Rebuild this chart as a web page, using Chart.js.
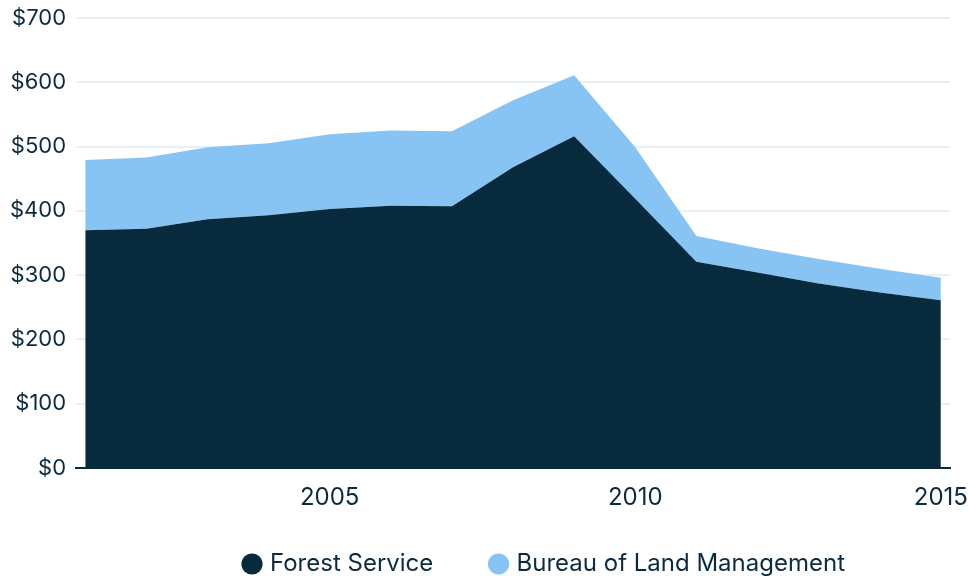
<!DOCTYPE html>
<html>
<head>
<meta charset="utf-8">
<script src="https://cdn.jsdelivr.net/npm/chart.js@4/dist/chart.umd.min.js"></script>
<style>
  html, body { margin: 0; padding: 0; background: #fff; }
  #wrap { width: 969px; height: 576px; position: relative; }
</style>
</head>
<body>
<div id="wrap"><canvas id="budgetChart"></canvas></div>
<script>
// Years on the x axis
const years = [2001, 2002, 2003, 2004, 2005, 2006, 2007, 2008, 2009, 2010, 2011, 2012, 2013, 2014, 2015];
// Spending in millions of dollars (stacked)
const forestService = [370, 372, 387, 393, 403, 408, 407, 468, 516, 419, 321, 304, 287, 273, 261];
const landManagement = [109, 111, 112, 112, 116, 117, 117, 104, 95, 80, 40, 38, 38, 37, 35];
const xTicks = [2005, 2010, 2015];

const navy = '#072a3d';
const sky = '#88c4f3';
const textColor = '#0b2b40';
const fontFamily = "Inter, 'Noto Sans', sans-serif";

// legend sits a bit right of center and lower in the original
const legendShift = {
    id: 'legendShift',
    afterLayout(chart) {
        const lg = chart.legend;
        lg.left = 234;
        lg.right = 969;
        lg.top += 10;
        lg.bottom += 10;
    }
};

document.addEventListener('DOMContentLoaded', function() {
    const ctx = document.getElementById('budgetChart').getContext('2d');

    const data = {
        datasets: [
            {
                label: 'Forest Service',
                data: years.map((y, i) => ({ x: y, y: forestService[i] })),
                backgroundColor: navy,
                borderColor: navy,
                borderWidth: 0,
                pointRadius: 0,
                fill: 'origin'
            },
            {
                label: 'Bureau of Land Management',
                data: years.map((y, i) => ({ x: y, y: landManagement[i] })),
                backgroundColor: sky,
                borderColor: sky,
                borderWidth: 0,
                pointRadius: 0,
                fill: '-1'
            }
        ]
    };

    const config = {
        type: 'line',
        data: data,
        plugins: [legendShift],
        options: {
            responsive: true,
            maintainAspectRatio: false,
            animation: false,
            layout: { padding: { left: 0, right: 19, top: 18, bottom: 0 } },
            plugins: {
                legend: {
                    display: true,
                    position: 'bottom',
                    align: 'start',
                    labels: {
                        usePointStyle: true,
                        pointStyle: 'circle',
                        boxWidth: 12,
                        boxHeight: 15,
                        padding: 12,
                        color: textColor,
                        font: { size: 24, family: fontFamily },
                        generateLabels: function(chart) {
                            const items = Chart.defaults.plugins.legend.labels.generateLabels(chart);
                            const c = chart.ctx;
                            c.save();
                            c.font = '24px ' + fontFamily;
                            const sp = c.measureText('\u00A0').width || 6;
                            c.restore();
                            items[0].text += '\u00A0'.repeat(Math.round(49 / sp));
                            return items;
                        }
                    }
                },
                tooltip: { enabled: false }
            },
            scales: {
                x: {
                    type: 'linear',
                    min: 2000.85,
                    max: 2015.15,
                    afterBuildTicks: function(axis) {
                        axis.ticks = xTicks.map(v => ({ value: v }));
                    },
                    afterFit: function(axis) {
                        axis.height = 62;
                        axis.paddingRight = 0;
                    },
                    ticks: {
                        color: textColor,
                        padding: 15,
                        maxRotation: 0,
                        font: { size: 24, family: fontFamily },
                        callback: v => String(v)
                    },
                    grid: { display: false, drawTicks: false },
                    border: { display: true, color: navy, width: 2 }
                },
                y: {
                    stacked: true,
                    min: 0,
                    max: 700,
                    afterFit: function(axis) {
                        axis.paddingTop = 0;
                    },
                    ticks: {
                        stepSize: 100,
                        color: textColor,
                        padding: 10,
                        font: { size: 22, family: fontFamily },
                        callback: v => '$' + v
                    },
                    grid: { color: '#e4f0fa', lineWidth: 2, drawTicks: false },
                    border: { display: false }
                }
            }
        }
    };

    new Chart(ctx, config);
});
</script>
</body>
</html>
